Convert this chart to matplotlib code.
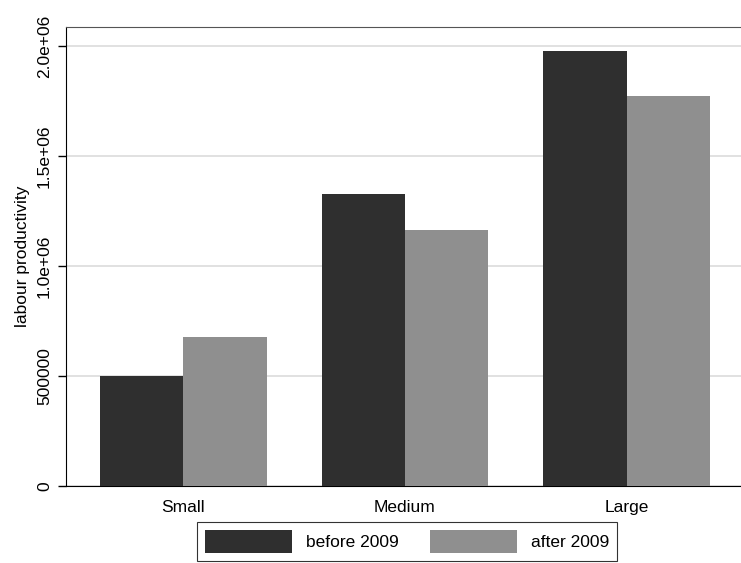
import matplotlib.pyplot as plt
import numpy as np

plt.rcParams['font.family'] = ['Liberation Sans', 'DejaVu Sans']

# Data
categories = ['Small', 'Medium', 'Large']
before_2009 = [500000, 1327000, 1977000]
after_2009 = [677000, 1164000, 1773000]
y_ticks = [0, 500000, 1000000, 1500000, 2000000]
y_tick_labels = ['0', '500000', '1.0e+06', '1.5e+06', '2.0e+06']

fig = plt.figure(figsize=(7.41, 5.63), dpi=100)
ax = fig.add_axes([66 / 741, 77 / 563, 1 - 66 / 741 + 0.01, (486 - 27) / 563])

x = np.arange(len(categories))
w = 0.375
ax.bar(x - w / 2, before_2009, w, color='#2f2f2f', label='before 2009', zorder=3)
ax.bar(x + w / 2, after_2009, w, color='#8f8f8f', label='after 2009', zorder=3)

ax.set_xlim(-0.53, 2.55)
ax.set_ylim(0, 2.086e6)
ax.set_yticks(y_ticks)
ax.set_yticklabels(y_tick_labels, rotation=90, va='center', fontsize=12.5)
ax.set_xticks(x)
ax.set_xticklabels(categories, fontsize=12.5)
ax.tick_params(axis='x', length=0, pad=10)
ax.tick_params(axis='y', length=6, width=1, pad=4)
ax.yaxis.grid(True, color='#dcdcdc', linewidth=1.2, zorder=0)
ax.set_ylabel('labour productivity', fontsize=12.5, labelpad=5)

ax.spines['right'].set_visible(False)
ax.spines['top'].set_color('#555555')
for s in ['left', 'bottom']:
    ax.spines[s].set_color('black')

leg = fig.legend(loc='lower center', bbox_to_anchor=(407 / 741, -0.012), ncol=2,
                 fontsize=12.5, frameon=True, fancybox=False, edgecolor='black',
                 handlelength=5.0, handleheight=1.7, columnspacing=1.8,
                 handletextpad=0.8, borderpad=0.45)
leg.get_frame().set_linewidth(0.8)

fig.savefig('out.png', dpi=100)
